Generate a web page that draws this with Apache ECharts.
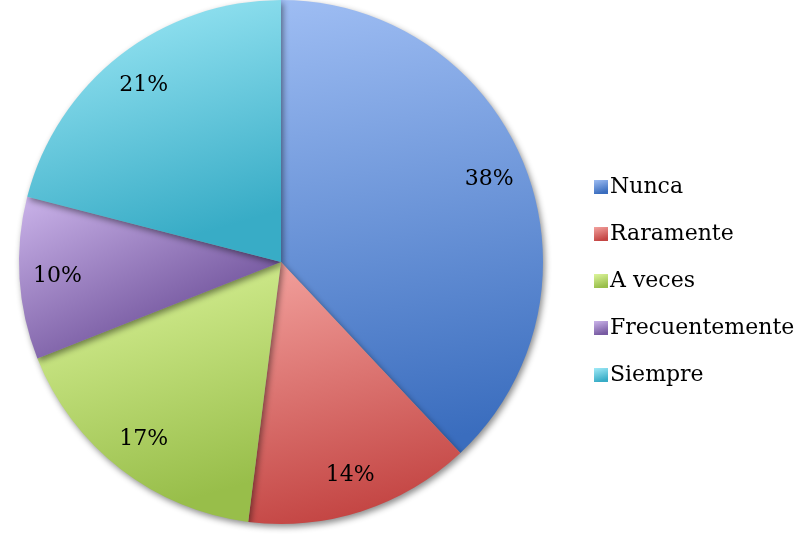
<!DOCTYPE html>
<html><head><meta charset="utf-8">
<script src="https://cdn.jsdelivr.net/npm/echarts@6/dist/echarts.min.js"></script>
<style>html,body{margin:0;padding:0;background:#fff}#c{width:801px;height:535px}</style>
</head><body><div id="c"></div>
<script>
const categories = ['Nunca', 'Raramente', 'A veces', 'Frecuentemente', 'Siempre'];
const values = [38, 14, 17, 10, 21];
const lightColors = ['#9ebdf3', '#f3a29e', '#ddf59c', '#cbb4ea', '#a2ebf8'];
const darkColors = ['#3a6dbe', '#c44644', '#98be4a', '#785ba2', '#38acc6'];

const FONT = 'DejaVu Serif';
function grad(i) {
  return new echarts.graphic.LinearGradient(0, 0, 0.3, 1, [
    { offset: 0, color: lightColors[i] },
    { offset: 1, color: darkColors[i] }
  ]);
}
const pieData = categories.map((c, i) => ({
  name: c, value: values[i],
  itemStyle: { color: grad(i) }
}));
const labelData = categories.map((c, i) => ({ name: c, value: values[i] }));

const chart = echarts.init(document.getElementById('c'), null, { renderer: 'canvas' });
chart.setOption({
  animation: false,
  legend: {
    orient: 'vertical',
    left: 589, top: 171,
    itemWidth: 14, itemHeight: 14, itemGap: 25,
    icon: 'rect',
    textStyle: { fontFamily: FONT, fontSize: 22, color: '#000', padding: [0, 0, 0, -3] },
    data: categories.map((c, i) => ({ name: c, itemStyle: { color: grad(i) } }))
  },
  series: [{
    type: 'pie',
    center: [281, 262],
    radius: [0, 262],
    startAngle: 90,
    clockwise: true,
    label: { show: false },
    labelLine: { show: false },
    itemStyle: {
      shadowBlur: 6, shadowOffsetX: 2, shadowOffsetY: 3, shadowColor: 'rgba(0,0,0,0.45)'
    },
    emphasis: { disabled: true },
    data: pieData
  }, {
    type: 'pie',
    center: [281, 262],
    radius: [180, 262],
    startAngle: 90,
    clockwise: true,
    silent: true,
    legendHoverLink: false,
    itemStyle: { color: 'rgba(0,0,0,0)' },
    label: {
      show: true, position: 'inside',
      formatter: '{c}%',
      fontFamily: FONT, fontSize: 22, color: '#000'
    },
    labelLine: { show: false },
    emphasis: { disabled: true },
    data: labelData
  }]
});
</script></body></html>
